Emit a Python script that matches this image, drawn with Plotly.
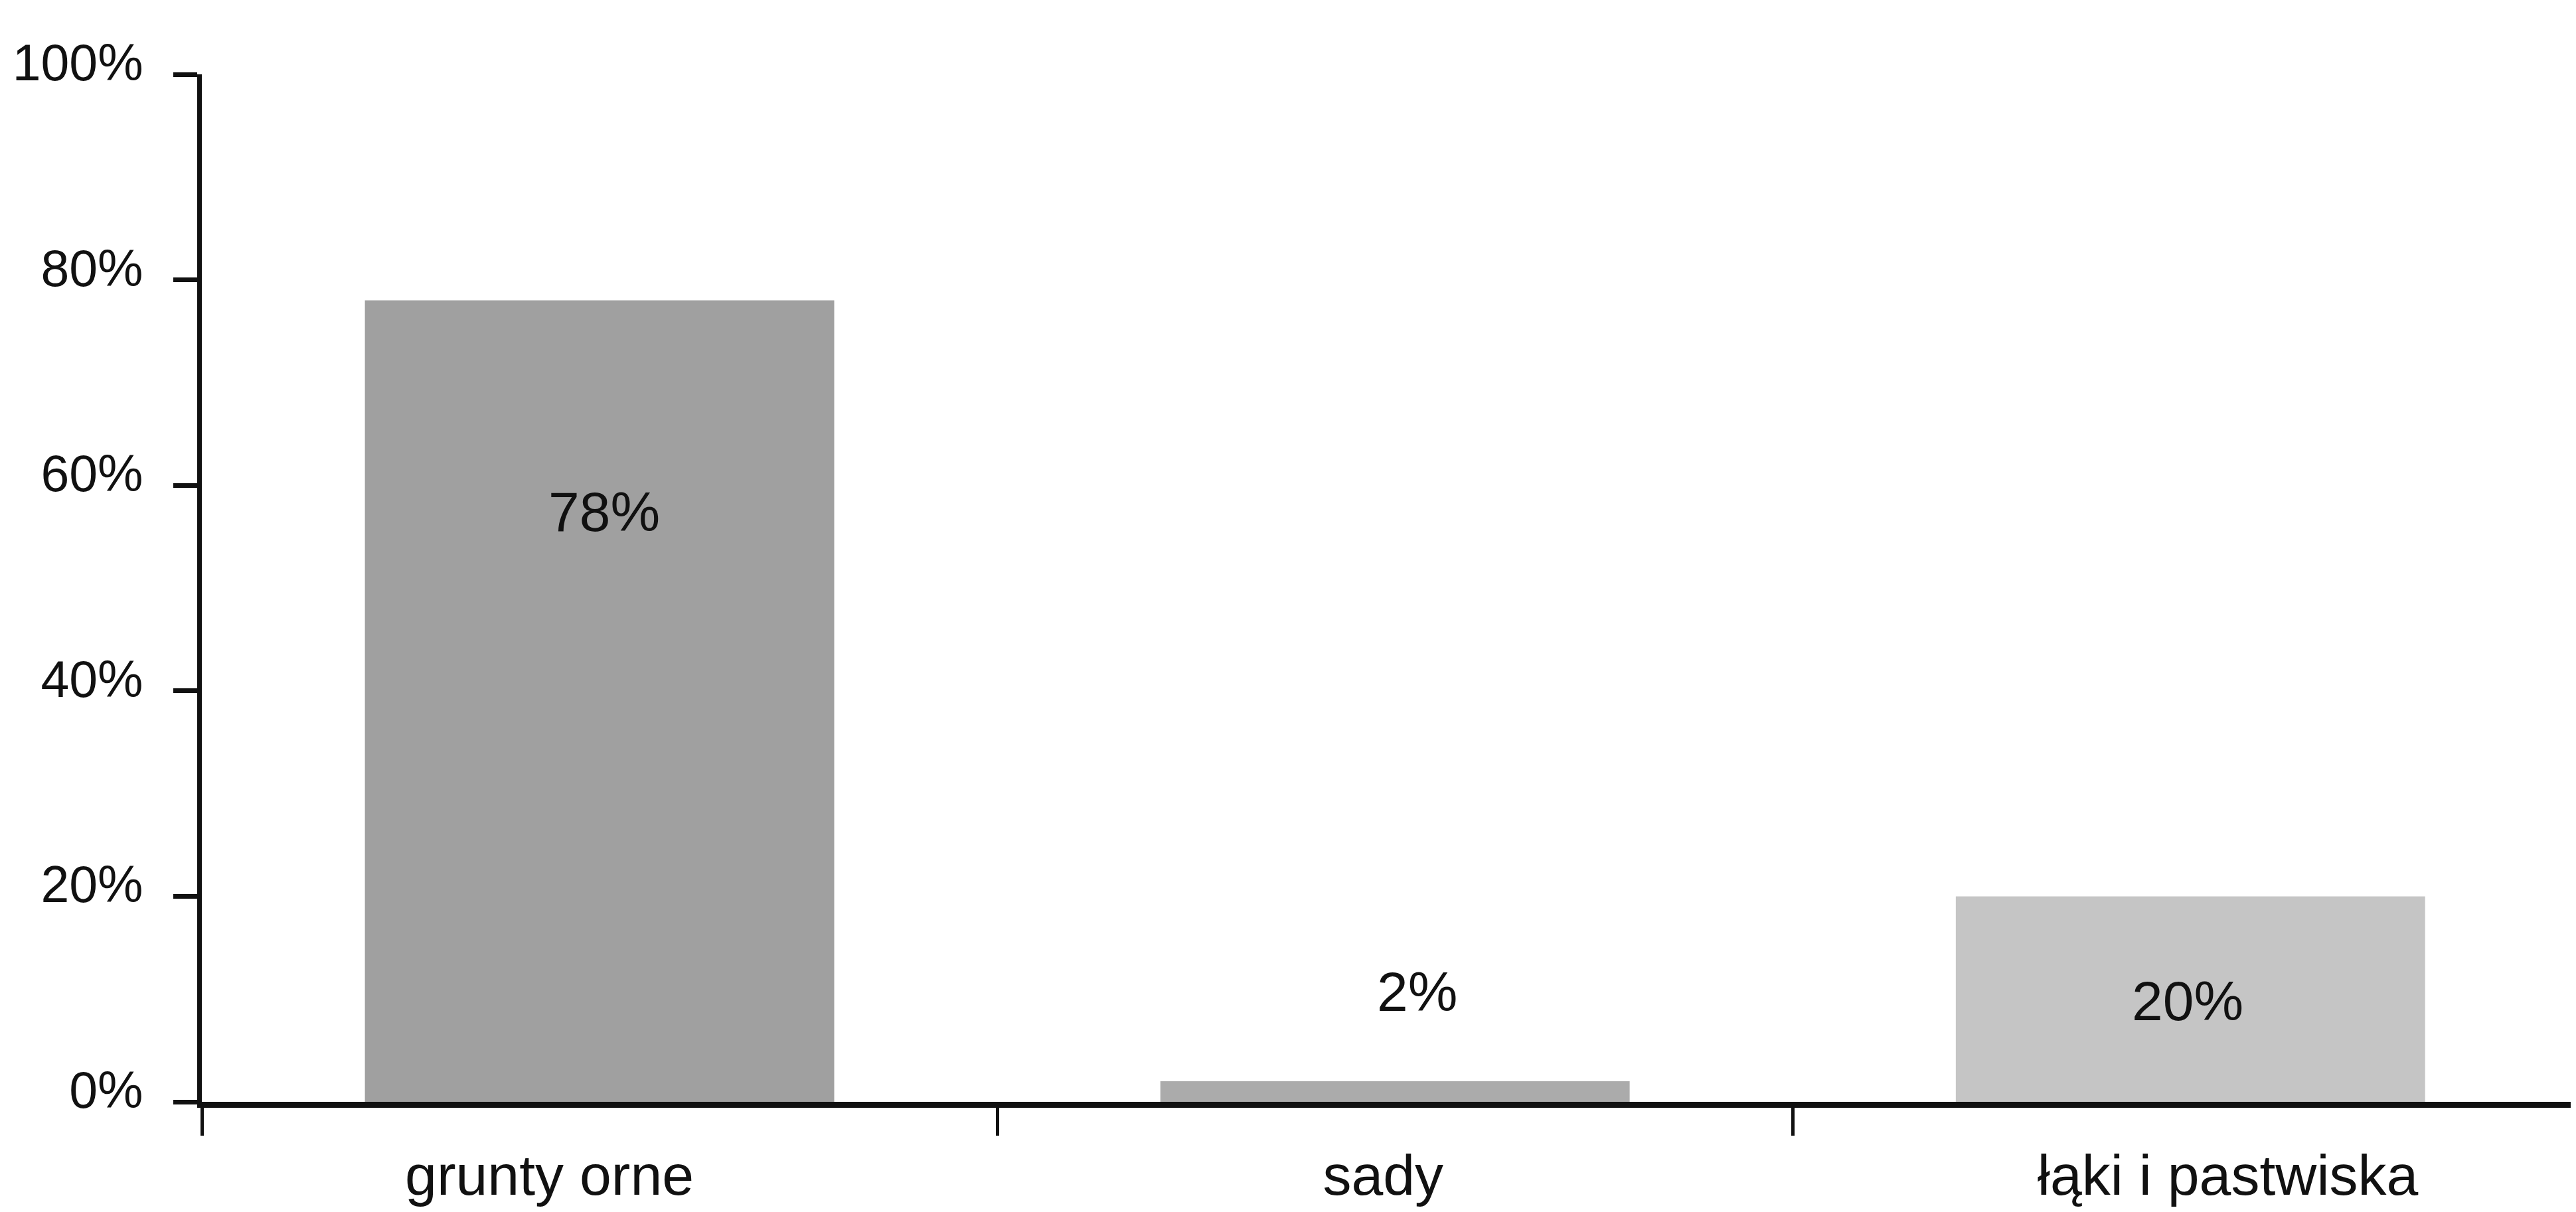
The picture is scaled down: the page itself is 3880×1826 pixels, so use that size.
import plotly.graph_objects as go

categories = ["grunty orne", "sady", "łąki i pastwiska"]
values = [78, 2, 20]
labels = ["78%", "2%", "20%"]
bar_colors = ["#a0a0a0", "#ababab", "#c5c5c5"]

# positions of bars on the linear x axis (one unit per category)
bar_x = [0, 1, 2]
# label placement (layout only)
label_y = [57.4, 10.7, 9.8]
label_x = [0.006, 1.028, 1.996]
cat_label_x = [-0.063, 0.985, 2.047]
cat_boundaries = [-0.5, 0.5, 1.5, 2.5]

y_ticks = [0, 20, 40, 60, 80, 100]
y_ticktext = ["0%", "20%", "40%", "60%", "80%", "100%"]

FONT = "Liberation Sans, Arial, sans-serif"
INK = "#111111"

fig = go.Figure()
fig.add_trace(go.Bar(
    x=bar_x, y=values, width=0.59,
    marker=dict(color=bar_colors, line=dict(width=0)),
    hoverinfo="skip",
))

for t, lx, ly in zip(labels, label_x, label_y):
    fig.add_annotation(x=lx, y=ly, text=t, showarrow=False,
                       font=dict(family=FONT, size=84, color=INK))

# page body has an 8px margin, so the figure is 16px smaller than the window
W, H = 3864, 1810
fig.update_layout(
    width=W, height=H,
    margin=dict(l=296, r=0, t=104, b=158, pad=0),
    paper_bgcolor="white", plot_bgcolor="white",
    showlegend=False,
    font=dict(family=FONT, size=84, color=INK),
)
fig.update_xaxes(
    range=[-0.5, 2.478], automargin=False,
    tickmode="array", tickvals=cat_label_x, ticktext=categories,
    ticks="", ticklabelstandoff=28,
    showline=True, linecolor=INK, linewidth=9,
    minor=dict(tickmode="array", tickvals=cat_boundaries, ticks="outside",
               ticklen=42, tickwidth=5, tickcolor=INK, showgrid=False),
    showgrid=False, zeroline=False,
    tickfont=dict(family=FONT, size=86, color=INK),
)
fig.update_yaxes(
    range=[0, 100], tickvals=y_ticks, ticktext=y_ticktext, automargin=False,
    showline=True, linecolor=INK, linewidth=7,
    ticks="outside", ticklen=36, tickwidth=7, tickcolor=INK,
    showgrid=False, zeroline=False,
    ticklabelstandoff=30, ticklabelshift=-18,
    tickfont=dict(family=FONT, size=77, color=INK),
)

fig.write_html("out.html")
